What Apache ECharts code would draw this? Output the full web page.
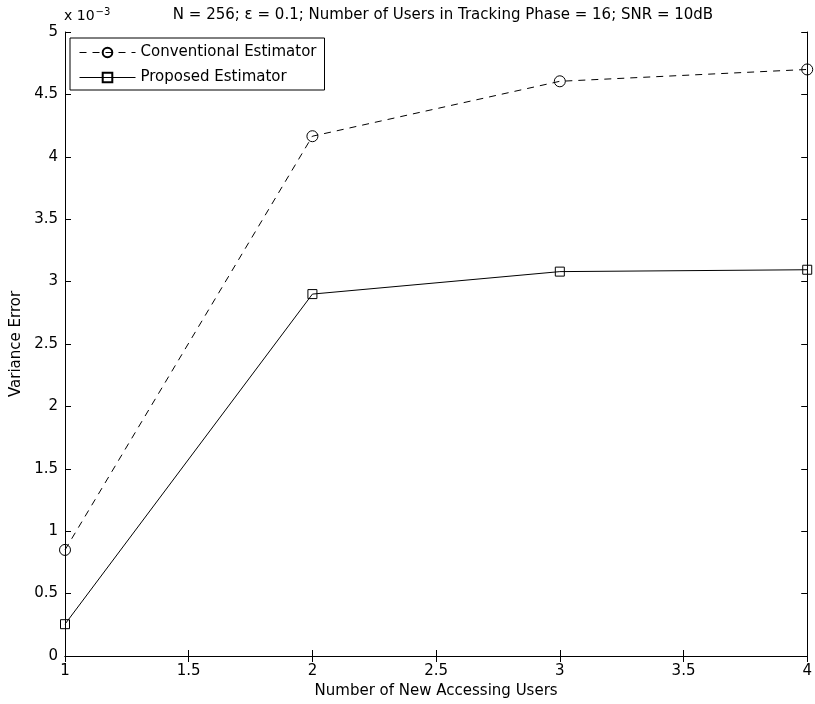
<!DOCTYPE html>
<html><head><meta charset="utf-8">
<script src="https://cdn.jsdelivr.net/npm/echarts@6/dist/echarts.min.js"></script>
<style>html,body{margin:0;padding:0;background:#fff}#c{width:815px;height:704px}</style>
</head><body><div id="c"></div>
<script>
var xValues = [1, 2, 3, 4];
var conventional = [0.85, 4.165, 4.605, 4.70];   // x 10^-3
var proposed = [0.255, 2.90, 3.08, 3.095];        // x 10^-3
var xTicks = [1, 1.5, 2, 2.5, 3, 3.5, 4];
var yTicks = [0, 0.5, 1, 1.5, 2, 2.5, 3, 3.5, 4, 4.5, 5];

var F = 'DejaVu Sans, Liberation Sans, sans-serif';
var FS = 15;
var chart = echarts.init(document.getElementById('c'));
function pairs(ys){ return xValues.map(function(x,i){return [x, ys[i]];}); }
var tickCommon = {show:true, inside:true, length:6, lineStyle:{color:'#000', width:1}};
chart.setOption({
  animation:false,
  backgroundColor:'#fff',
  title:{text:'N = 256; \u03b5 = 0.1; Number of Users in Tracking Phase = 16; SNR = 10dB',
    left:438, top:3, textAlign:'center',
    textStyle:{fontFamily:F, fontSize:FS, fontWeight:'normal', color:'#000'}},
  grid:{left:65, top:32, right:6, bottom:47},
  legend:{left:70, top:38, orient:'vertical', itemGap:10, itemWidth:56, itemHeight:12,
    padding:[7,8,5,9], borderColor:'#000', borderWidth:1, backgroundColor:'#fff',
    lineStyle:{width:1},
    textStyle:{fontFamily:F, fontSize:FS, color:'#000'},
    data:['Conventional Estimator','Proposed Estimator']},
  xAxis:[{type:'value', min:1, max:4, interval:0.5, position:'bottom',
    name:'Number of New Accessing Users', nameLocation:'middle', nameGap:28,
    nameTextStyle:{fontFamily:F, fontSize:FS, color:'#000'},
    axisLine:{show:true, lineStyle:{color:'#000', width:1}},
    axisTick:tickCommon, splitLine:{show:false},
    axisLabel:{fontFamily:F, fontSize:FS, color:'#000', margin:8}},
   {type:'value', min:1, max:4, interval:0.5, position:'top',
    axisLine:{show:true, lineStyle:{color:'#000', width:1}},
    axisTick:tickCommon, splitLine:{show:false}, axisLabel:{show:false}}],
  yAxis:[{type:'value', min:0, max:5, interval:0.5, position:'left',
    name:'Variance Error', nameLocation:'middle', nameGap:40,
    nameTextStyle:{fontFamily:F, fontSize:FS, color:'#000'},
    axisLine:{show:true, lineStyle:{color:'#000', width:1}},
    axisTick:tickCommon, splitLine:{show:false},
    axisLabel:{fontFamily:F, fontSize:FS, color:'#000', margin:7}},
   {type:'value', min:0, max:5, interval:0.5, position:'right',
    axisLine:{show:true, lineStyle:{color:'#000', width:1}},
    axisTick:tickCommon, splitLine:{show:false}, axisLabel:{show:false}}],
  graphic:[{type:'text', left:64, top:7,
    style:{text:'{a|x 10}{b|\u22123}', rich:{a:{fontFamily:F, fontSize:14, fill:'#000'},
      b:{fontFamily:F, fontSize:10, fill:'#000', verticalAlign:'top', padding:[0,0,9,1]}}}}],
  series:[
    {name:'Conventional Estimator', type:'line', data:pairs(conventional),
     symbol:'circle', symbolSize:11, showAllSymbol:true,
     lineStyle:{color:'#000', width:1, type:[7,6]},
     itemStyle:{color:'rgba(0,0,0,0)', borderColor:'#000', borderWidth:1}},
    {name:'Proposed Estimator', type:'line', data:pairs(proposed),
     symbol:'rect', symbolSize:9,
     lineStyle:{color:'#000', width:1},
     itemStyle:{color:'rgba(0,0,0,0)', borderColor:'#000', borderWidth:1}}
  ]
});
</script></body></html>
